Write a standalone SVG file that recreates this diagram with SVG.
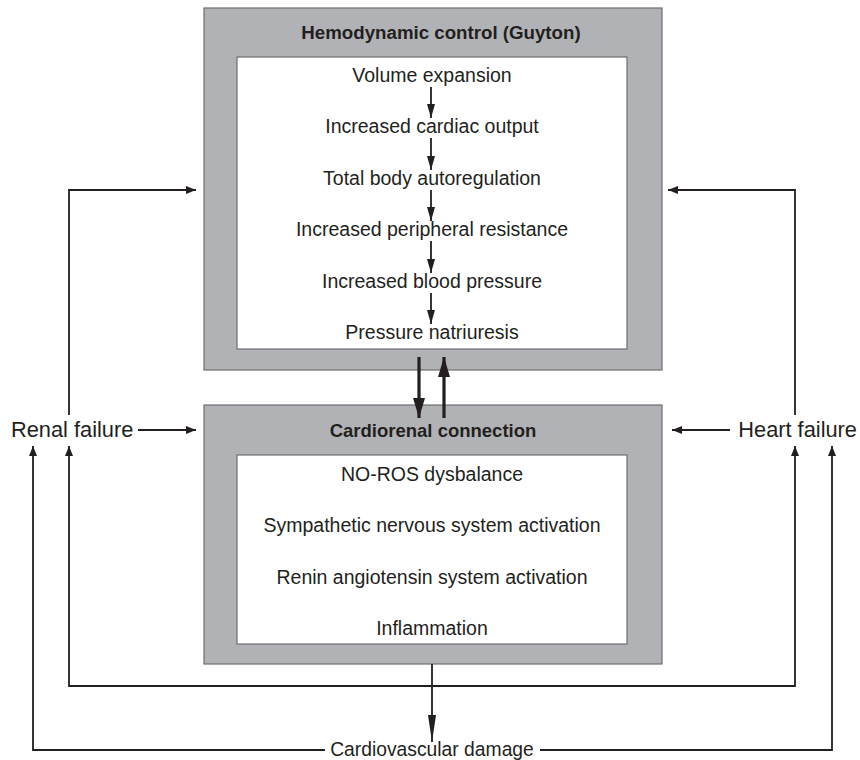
<svg xmlns="http://www.w3.org/2000/svg" width="860" height="760" viewBox="0 0 860 760">
  <defs>
    <style>
      .outer { fill: #b1b2b5; stroke: #6d6e71; stroke-width: 1.2; }
      .inner { fill: #ffffff; stroke: #6d6e71; stroke-width: 1.2; }
      .txt { font-family: "Liberation Sans", Arial, sans-serif; font-size: 19.5px; fill: #231f20; text-anchor: middle; }
      .title { font-family: "Liberation Sans", Arial, sans-serif; font-size: 18.7px; font-weight: bold; fill: #231f20; text-anchor: middle; }
      .side { font-family: "Liberation Sans", Arial, sans-serif; font-size: 21.8px; fill: #231f20; }
      .ln { fill: none; stroke: #231f20; stroke-width: 1.8; }
      .thick { fill: none; stroke: #231f20; stroke-width: 3.2; }
    </style>
    <marker id="ah" viewBox="0 0 10 8" refX="10" refY="4" markerWidth="10" markerHeight="8" markerUnits="userSpaceOnUse" orient="auto">
      <path d="M0,0 L10,4 L0,8 Z" fill="#231f20"/>
    </marker>
    <marker id="ahSmall" viewBox="0 0 14 8" refX="14" refY="4" markerWidth="14" markerHeight="8" markerUnits="userSpaceOnUse" orient="auto">
      <path d="M0,0 L14,4 L0,8 Z" fill="#231f20"/>
    </marker>
    <marker id="ahLong" viewBox="0 0 27 8" refX="27" refY="4" markerWidth="27" markerHeight="8" markerUnits="userSpaceOnUse" orient="auto">
      <path d="M0,0 L27,4 L0,8 Z" fill="#231f20"/>
    </marker>
    <marker id="ahBig" viewBox="0 0 20 12" refX="20" refY="6" markerWidth="20" markerHeight="12" markerUnits="userSpaceOnUse" orient="auto">
      <path d="M0,0 L20,6 L0,12 Z" fill="#231f20"/>
    </marker>
  </defs>

  <rect width="860" height="760" fill="#ffffff"/>

  <!-- Hemodynamic control box -->
  <g id="hemodynamic">
    <rect class="outer" x="204" y="8" width="458" height="362"/>
    <rect class="inner" x="237" y="57" width="390" height="292"/>
    <text class="title" x="441" y="39">Hemodynamic control (Guyton)</text>
    <text class="txt" x="432" y="82">Volume expansion</text>
    <text class="txt" x="432" y="133">Increased cardiac output</text>
    <text class="txt" x="432" y="185">Total body autoregulation</text>
    <text class="txt" x="432" y="236">Increased peripheral resistance</text>
    <text class="txt" x="432" y="288">Increased blood pressure</text>
    <text class="txt" x="432" y="339">Pressure natriuresis</text>
    <g class="ln" marker-end="url(#ahSmall)">
      <line x1="431" y1="87" x2="431" y2="118"/>
      <line x1="431" y1="138" x2="431" y2="170"/>
      <line x1="431" y1="190" x2="431" y2="221"/>
      <line x1="431" y1="241" x2="431" y2="273"/>
      <line x1="431" y1="293" x2="431" y2="324"/>
    </g>
  </g>

  <!-- Cardiorenal connection box -->
  <g id="cardiorenal">
    <rect class="outer" x="204" y="405" width="458" height="259"/>
    <rect class="inner" x="237" y="455" width="390" height="189"/>
    <text class="title" x="433" y="437" style="font-size:18.5px">Cardiorenal connection</text>
    <text class="txt" x="432" y="481">NO-ROS dysbalance</text>
    <text class="txt" x="432" y="532">Sympathetic nervous system activation</text>
    <text class="txt" x="432" y="584">Renin angiotensin system activation</text>
    <text class="txt" x="432" y="635">Inflammation</text>
  </g>

  <!-- Side and bottom labels -->
  <g id="renal-failure">
    <text class="side" x="11" y="437">Renal failure</text>
  </g>
  <g id="heart-failure">
    <text class="side" x="857" y="437" text-anchor="end">Heart failure</text>
  </g>
  <g id="cardiovascular-damage">
    <text class="txt" x="432" y="756" style="font-size:19.3px">Cardiovascular damage</text>
  </g>

  <!-- Connectors -->
  <g id="connectors">
    <!-- exchange between the two boxes -->
    <line class="thick" x1="419" y1="357" x2="419" y2="418" marker-end="url(#ahBig)"/>
    <line class="thick" x1="444" y1="418" x2="444" y2="357" marker-end="url(#ahBig)"/>

    <!-- failures feeding into the boxes -->
    <polyline class="ln" points="69,415 69,190 196,190" marker-end="url(#ah)"/>
    <polyline class="ln" points="795,415 795,190 668,190" marker-end="url(#ah)"/>
    <line class="ln" x1="138" y1="430" x2="196" y2="430" marker-end="url(#ah)"/>
    <line class="ln" x1="730" y1="430" x2="672" y2="430" marker-end="url(#ah)"/>

    <!-- cardiorenal feedback loop -->
    <polyline class="ln" points="432,686 69,686 69,446" marker-end="url(#ah)"/>
    <polyline class="ln" points="432,686 795,686 795,446" marker-end="url(#ah)"/>

    <!-- cardiovascular damage -->
    <line class="ln" x1="432" y1="664" x2="432" y2="742" marker-end="url(#ahLong)"/>
    <polyline class="ln" points="325,750 33,750 33,446" marker-end="url(#ah)"/>
    <polyline class="ln" points="540,750 832,750 832,446" marker-end="url(#ah)"/>
  </g>
</svg>
